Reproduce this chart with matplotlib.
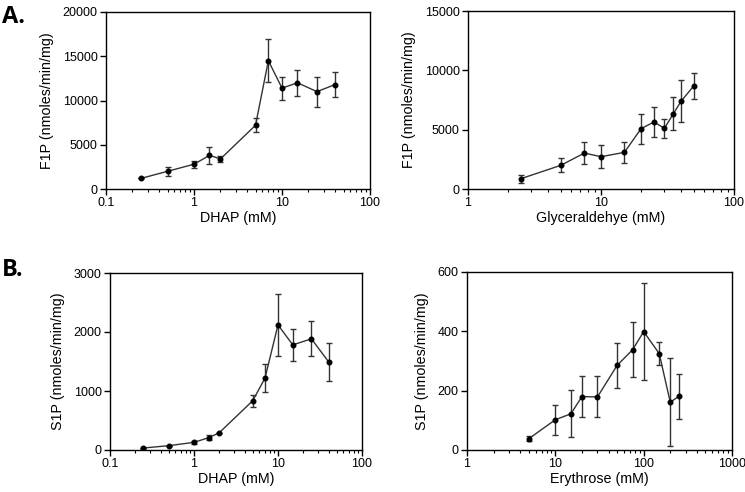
import matplotlib.pyplot as plt
import numpy as np
from matplotlib.ticker import FuncFormatter, LogLocator, NullFormatter

plt.rcParams['font.family'] = ['Liberation Sans', 'DejaVu Sans']

# Panel A, left: F1P vs DHAP
dhap_a = [0.25, 0.5, 1, 1.5, 2, 5, 7, 10, 15, 25, 40]
f1p_dhap = [1200, 2000, 2800, 3800, 3400, 7200, 14500, 11400, 12000, 11000, 11800]
f1p_dhap_err = [0, 500, 400, 1000, 350, 800, 2450, 1300, 1500, 1700, 1450]

# Panel A, right: F1P vs glyceraldehyde
glyc = [2.5, 5, 7.5, 10, 15, 20, 25, 30, 35, 40, 50]
f1p_glyc = [870, 2000, 3030, 2720, 3090, 5080, 5650, 5110, 6350, 7390, 8710]
f1p_glyc_err = [350, 580, 950, 970, 910, 1260, 1240, 780, 1400, 1760, 1100]

# Panel B, left: S1P vs DHAP
dhap_b = [0.25, 0.5, 1, 1.5, 2, 5, 7, 10, 15, 25, 40]
s1p_dhap = [34, 73, 130, 209, 293, 835, 1218, 2120, 1782, 1884, 1495]
s1p_dhap_err = [0, 0, 30, 40, 0, 100, 235, 530, 270, 295, 327]

# Panel B, right: S1P vs erythrose
eryth = [5, 10, 15, 20, 30, 50, 75, 100, 150, 200, 250]
s1p_eryth = [38, 102, 122, 180, 179, 285, 338, 399, 325, 161, 181]
s1p_eryth_err = [8, 51, 79, 69, 69, 76, 92, 163, 40, 148, 75]

panels = [
    # (x, y, err, xlim, ylim, yticks, xlabel, ylabel, rect in px)
    (dhap_a, f1p_dhap, f1p_dhap_err, (0.1, 100), (0, 20000), [0, 5000, 10000, 15000, 20000],
     'DHAP (mM)', 'F1P (nmoles/min/mg)', [106, 12, 264, 177]),
    (glyc, f1p_glyc, f1p_glyc_err, (1, 100), (0, 15000), [0, 5000, 10000, 15000],
     'Glyceraldehye (mM)', 'F1P (nmoles/min/mg)', [468, 11, 266, 178]),
    (dhap_b, s1p_dhap, s1p_dhap_err, (0.1, 100), (0, 3000), [0, 1000, 2000, 3000],
     'DHAP (mM)', 'S1P (nmoles/min/mg)', [110, 273, 252, 177]),
    (eryth, s1p_eryth, s1p_eryth_err, (1, 1000), (0, 600), [0, 200, 400, 600],
     'Erythrose (mM)', 'S1P (nmoles/min/mg)', [467, 272, 265, 178]),
]

W, H = 745, 492
fig = plt.figure(figsize=(W / 100, H / 100), dpi=100)

for x, y, err, xlim, ylim, yticks, xlab, ylab, r in panels:
    ax = fig.add_axes([r[0] / W, 1 - (r[1] + r[3]) / H, r[2] / W, r[3] / H])
    ax.errorbar(x, y, yerr=err, fmt='-o', color='#333333', mfc='black', mec='black',
                ms=3.3, lw=1.0, elinewidth=1.0, ecolor='#333333', capsize=2.5, capthick=1.0)
    ax.set_xscale('log')
    ax.set_xlim(*xlim)
    ax.set_ylim(*ylim)
    ax.set_yticks(yticks)
    ax.xaxis.set_major_locator(LogLocator(base=10))
    ax.xaxis.set_minor_locator(LogLocator(base=10, subs=np.arange(2, 10)))
    ax.xaxis.set_major_formatter(FuncFormatter(lambda v, p: '%g' % v))
    ax.xaxis.set_minor_formatter(NullFormatter())
    ax.tick_params(which='major', direction='out', length=4, width=1, labelsize=9, pad=2)
    ax.tick_params(which='minor', direction='out', length=2.5, width=0.8)
    for s in ax.spines.values():
        s.set_linewidth(1.0)
    ax.set_xlabel(xlab, fontsize=10.3, labelpad=1)
    ax.set_ylabel(ylab, fontsize=10.3, labelpad=6)

fig.text(2 / W, 1 - 23 / H, 'A.', fontsize=17, fontweight='bold', family=['Open Sans', 'DejaVu Sans'])
fig.text(2 / W, 1 - 276 / H, 'B.', fontsize=17, fontweight='bold', family=['Open Sans', 'DejaVu Sans'])

fig.savefig('out.png', dpi=100)
